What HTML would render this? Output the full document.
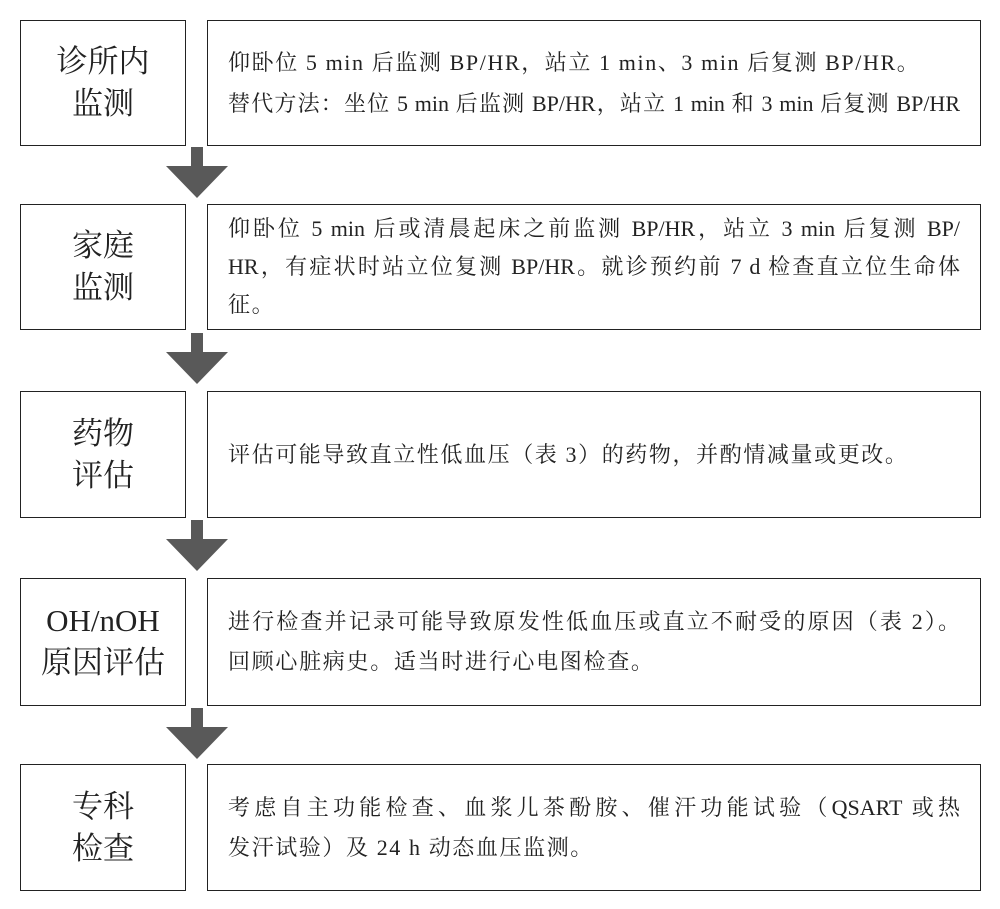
<!DOCTYPE html>
<html><head><meta charset="utf-8"><style>
body{margin:0;width:1000px;height:909px;background:#fff;position:relative;font-family:"Liberation Serif","Noto Serif CJK SC",serif;color:#222}
.l,.r{position:absolute;border:1.5px solid #222;box-sizing:border-box}
.l{left:20px;width:166px;display:flex;align-items:center;justify-content:center;text-align:center;font-size:31px;line-height:42px}
.r{left:207px;width:774px;font-size:22px;line-height:41px;padding:0 20px;display:flex;flex-direction:column;justify-content:center}
.r div{white-space:nowrap;letter-spacing:1.6px}
.r div.j{text-align:justify;text-align-last:justify;letter-spacing:0}
svg{position:absolute;left:0;top:0}
</style></head><body>
<div class="l" style="top:20px;height:126px">诊所内<br>监测</div>
<div class="r" style="top:20px;height:126px"><div>仰卧位 5 min 后监测 BP/HR，站立 1 min、3 min 后复测 BP/HR。</div><div class="j">替代方法：坐位 5 min 后监测 BP/HR，站立 1 min 和 3 min 后复测 BP/HR</div></div>
<div class="l" style="top:204px;height:126px">家庭<br>监测</div>
<div class="r" style="top:204px;height:126px;line-height:38px"><div class="j">仰卧位 5 min 后或清晨起床之前监测 BP/HR，站立 3 min 后复测 BP/</div><div class="j">HR，有症状时站立位复测 BP/HR。就诊预约前 7 d 检查直立位生命体</div><div>征。</div></div>
<div class="l" style="top:391px;height:127px">药物<br>评估</div>
<div class="r" style="top:391px;height:127px"><div>评估可能导致直立性低血压（表 3）的药物，并酌情减量或更改。</div></div>
<div class="l" style="top:578px;height:128px">OH/nOH<br>原因评估</div>
<div class="r" style="top:578px;height:128px;line-height:40px"><div class="j">进行检查并记录可能导致原发性低血压或直立不耐受的原因（表 2）。</div><div style="letter-spacing:1.7px">回顾心脏病史。适当时进行心电图检查。</div></div>
<div class="l" style="top:764px;height:127px">专科<br>检查</div>
<div class="r" style="top:764px;height:127px;line-height:40px"><div class="j">考虑自主功能检查、血浆儿茶酚胺、催汗功能试验（QSART 或热</div><div>发汗试验）及 24 h 动态血压监测。</div></div>
<svg width="1000" height="909">
<g fill="#595959">
<path d="M191 147H203V166H228L197 198L166 166H191Z"/>
<path d="M191 333H203V352H228L197 384L166 352H191Z"/>
<path d="M191 520H203V539H228L197 571L166 539H191Z"/>
<path d="M191 708H203V727H228L197 759L166 727H191Z"/>
</g></svg>
</body></html>
